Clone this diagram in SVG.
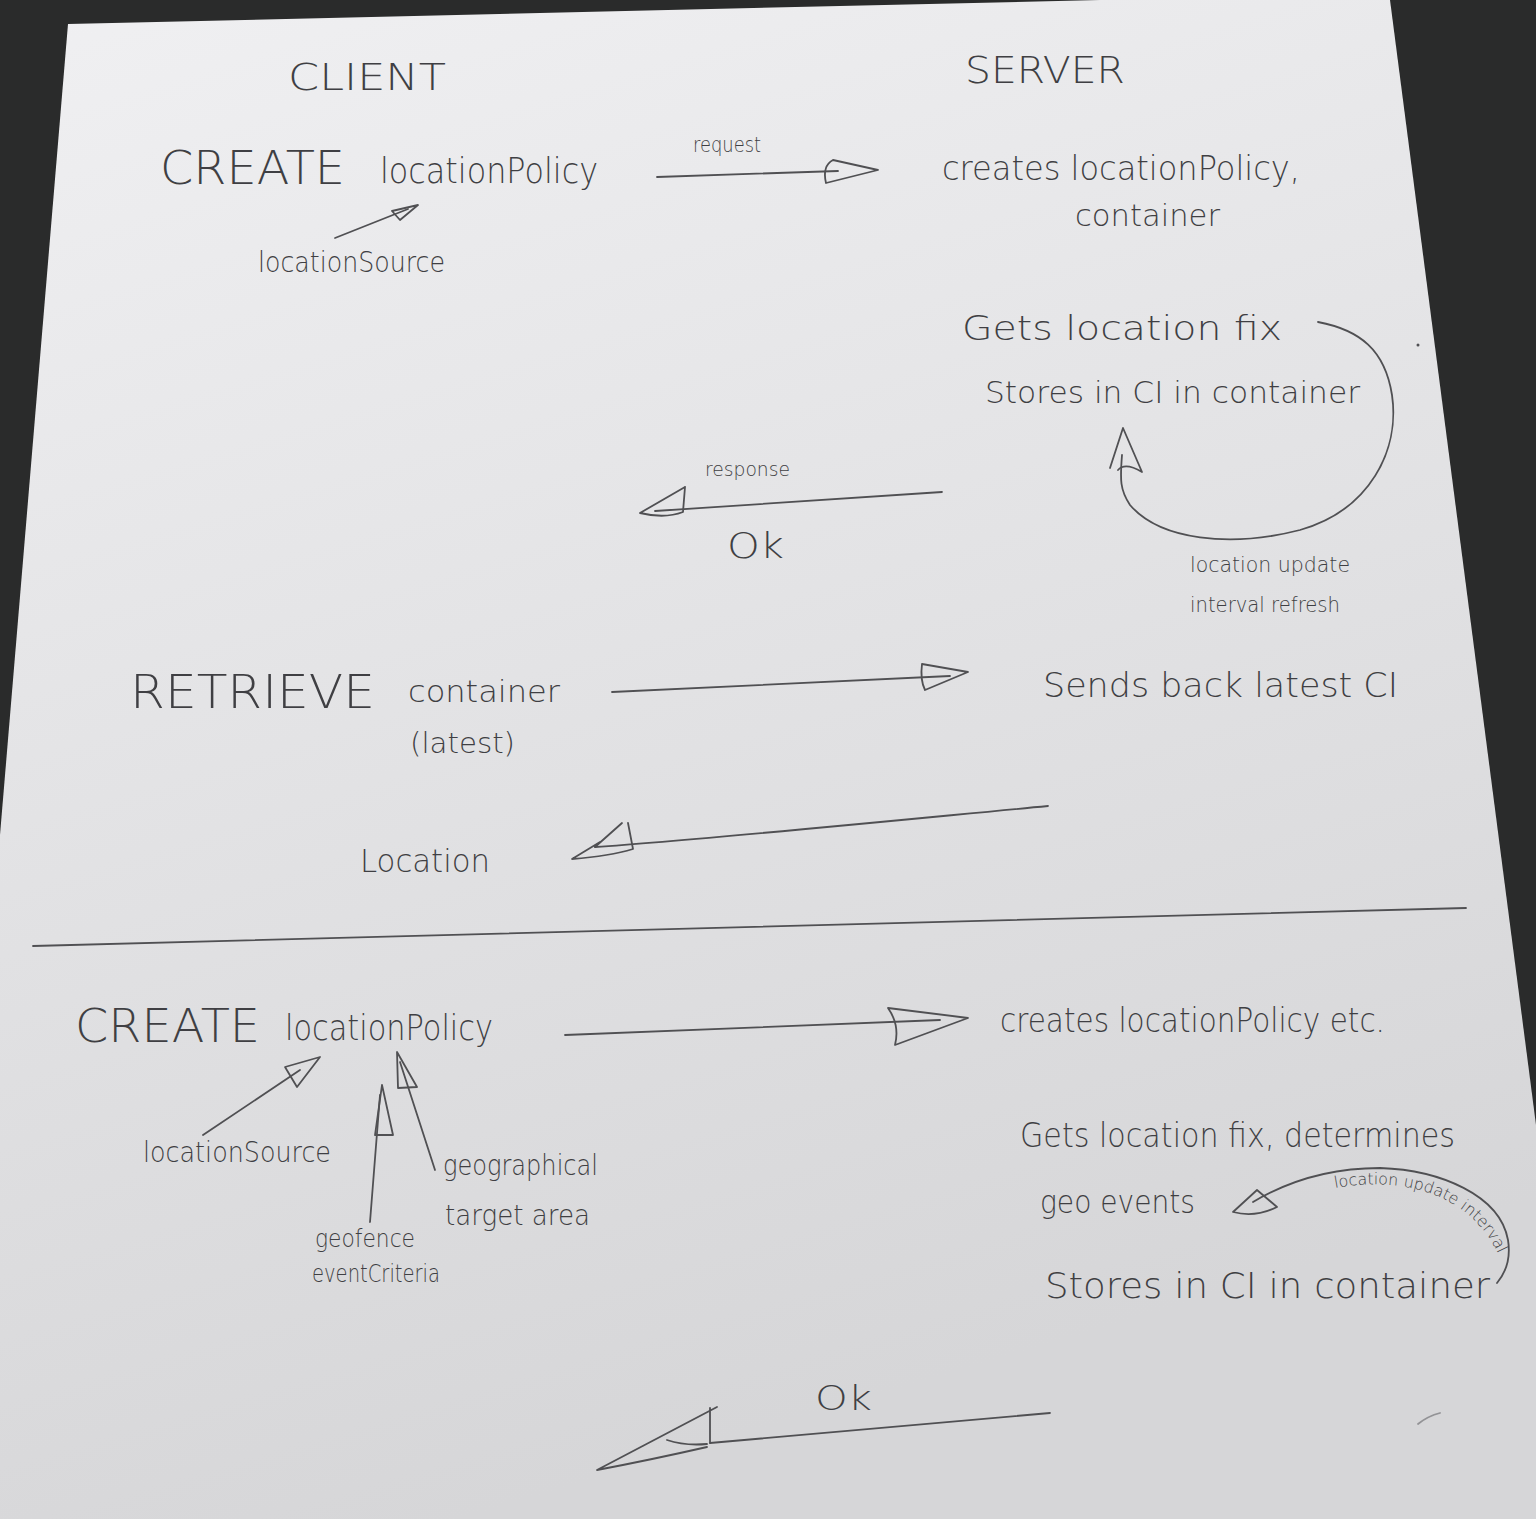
<svg xmlns="http://www.w3.org/2000/svg" width="1536" height="1519" viewBox="0 0 1536 1519">
<defs>
<linearGradient id="paper" x1="0" y1="0" x2="0.3" y2="1">
<stop offset="0" stop-color="#f0f0f2"/>
<stop offset="0.5" stop-color="#e3e3e5"/>
<stop offset="1" stop-color="#d6d6d8"/>
</linearGradient>
<style>
.t{font-family:"DejaVu Sans","Liberation Sans",sans-serif;font-weight:200;fill:#3f3f43;}
.s{fill:none;stroke:#505053;stroke-width:1.8;stroke-linecap:round;stroke-linejoin:round;}
</style>
</defs>
<rect x="0" y="0" width="1536" height="1519" fill="#2a2b2b"/>
<polygon points="68,24 1100,0 1390,0 1536,1125 1536,1519 0,1519 0,835" fill="url(#paper)"/>

<g id="connectors">
<path class="s" d="M657,177 L838,171"/>
<path class="s" d="M833,160 Q822,166 826,183 L878,170 Z"/>
<path class="s" d="M335,238 L408,209"/>
<path class="s" d="M418,205 L392,211 L400,220 Z"/>
<path class="s" d="M1318,322 C1360,330 1385,350 1392,395 C1400,450 1370,510 1300,530 C1230,548 1160,540 1130,505 C1120,490 1120,480 1122,455"/>
<path class="s" d="M1123,428 L1110,468 M1123,428 L1142,472 Q1125,462 1118,470"/>
<path class="s" d="M942,492 L655,511"/>
<path class="s" d="M685,487 L640,513 Q665,519 683,512 L685,487"/>
<path class="s" d="M612,692 L950,676"/>
<path class="s" d="M922,664 Q920,680 925,690 L968,672 Z"/>
<path class="s" d="M1048,806 C900,820 700,840 595,847"/>
<path class="s" d="M595,847 L622,823 M628,823 L633,849 Q610,856 572,859 L600,842"/>
<path class="s" d="M33,946 L1466,908"/>
<path class="s" d="M565,1035 L940,1020"/>
<path class="s" d="M888,1008 Q900,1025 895,1045 L968,1018 Z"/>
<path class="s" d="M203,1135 L300,1070"/>
<path class="s" d="M320,1057 L285,1067 L297,1087 Z"/>
<path class="s" d="M370,1222 L380,1095"/>
<path class="s" d="M382,1085 L375,1135 L393,1135 Z"/>
<path class="s" d="M435,1170 L400,1062"/>
<path class="s" d="M397,1052 L398,1088 L417,1087 Z"/>
<path class="s" d="M1497,1283 Q1512,1265 1508,1240 C1500,1195 1440,1170 1380,1168 C1330,1168 1290,1180 1253,1202"/>
<path class="s" d="M1233,1212 L1257,1190 L1277,1207 Q1255,1218 1233,1212 Z"/>
<path class="s" d="M1050,1413 L710,1443"/>
<path class="s" d="M710,1443 L710,1408 M717,1407 L597,1470 Q650,1460 707,1447 M667,1440 Q685,1446 707,1444"/>
<path class="s" d="M1418,1424 Q1428,1416 1440,1413" stroke-width="1" opacity="0.5"/>
<circle cx="1418" cy="345" r="1.5" fill="#505053"/>
</g>

<g id="header-client"><text class="t" x="288" y="90" font-size="38" textLength="158" lengthAdjust="spacingAndGlyphs">CLIENT</text></g>
<g id="header-server"><text class="t" x="965" y="83" font-size="38" textLength="160" lengthAdjust="spacingAndGlyphs">SERVER</text></g>

<g id="create1">
<text class="t" x="160" y="184" font-size="46" textLength="185" lengthAdjust="spacingAndGlyphs">CREATE</text>
<text class="t" x="380" y="183" font-size="36" textLength="218" lengthAdjust="spacingAndGlyphs">locationPolicy</text>
</g>
<g id="label-request"><text class="t" x="693" y="152" font-size="22" textLength="68" lengthAdjust="spacingAndGlyphs">request</text></g>
<g id="server-creates1">
<text class="t" x="942" y="180" font-size="34" textLength="358" lengthAdjust="spacingAndGlyphs">creates locationPolicy,</text>
<text class="t" x="1075" y="226" font-size="30" textLength="145" lengthAdjust="spacingAndGlyphs">container</text>
</g>
<g id="locationSource1"><text class="t" x="258" y="272" font-size="28" textLength="187" lengthAdjust="spacingAndGlyphs">locationSource</text></g>
<g id="server-gets1">
<text class="t" x="962" y="340" font-size="34" textLength="320" lengthAdjust="spacingAndGlyphs">Gets location fix</text>
<text class="t" x="985" y="403" font-size="30" textLength="375" lengthAdjust="spacingAndGlyphs">Stores in CI in container</text>
</g>
<g id="label-loop1">
<text class="t" x="1190" y="572" font-size="22" textLength="160" lengthAdjust="spacingAndGlyphs">location update</text>
<text class="t" x="1190" y="612" font-size="22" textLength="150" lengthAdjust="spacingAndGlyphs">interval refresh</text>
</g>
<g id="label-response"><text class="t" x="705" y="476" font-size="20" textLength="85" lengthAdjust="spacingAndGlyphs">response</text></g>
<g id="ok1"><text class="t" x="727" y="558" font-size="36" textLength="57" lengthAdjust="spacingAndGlyphs">Ok</text></g>

<g id="retrieve">
<text class="t" x="130" y="708" font-size="46" textLength="245" lengthAdjust="spacingAndGlyphs">RETRIEVE</text>
<text class="t" x="408" y="702" font-size="30" textLength="152" lengthAdjust="spacingAndGlyphs">container</text>
<text class="t" x="410" y="753" font-size="28" textLength="105" lengthAdjust="spacingAndGlyphs">(latest)</text>
</g>
<g id="server-sends"><text class="t" x="1043" y="697" font-size="34" textLength="355" lengthAdjust="spacingAndGlyphs">Sends back latest CI</text></g>
<g id="location"><text class="t" x="360" y="872" font-size="32" textLength="130" lengthAdjust="spacingAndGlyphs">Location</text></g>

<g id="create2">
<text class="t" x="75" y="1042" font-size="46" textLength="185" lengthAdjust="spacingAndGlyphs">CREATE</text>
<text class="t" x="285" y="1040" font-size="36" textLength="208" lengthAdjust="spacingAndGlyphs">locationPolicy</text>
</g>
<g id="server-creates2"><text class="t" x="1000" y="1032" font-size="34" textLength="385" lengthAdjust="spacingAndGlyphs">creates locationPolicy etc.</text></g>
<g id="locationSource2"><text class="t" x="143" y="1162" font-size="28" textLength="188" lengthAdjust="spacingAndGlyphs">locationSource</text></g>
<g id="geoTargetArea">
<text class="t" x="443" y="1175" font-size="28" textLength="155" lengthAdjust="spacingAndGlyphs">geographical</text>
<text class="t" x="445" y="1225" font-size="28" textLength="145" lengthAdjust="spacingAndGlyphs">target area</text>
</g>
<g id="geofenceEventCriteria">
<text class="t" x="315" y="1247" font-size="24" textLength="100" lengthAdjust="spacingAndGlyphs">geofence</text>
<text class="t" x="312" y="1282" font-size="24" textLength="128" lengthAdjust="spacingAndGlyphs">eventCriteria</text>
</g>
<g id="server-gets2">
<text class="t" x="1020" y="1147" font-size="34" textLength="435" lengthAdjust="spacingAndGlyphs">Gets location fix, determines</text>
<text class="t" x="1040" y="1213" font-size="32" textLength="155" lengthAdjust="spacingAndGlyphs">geo events</text>
<text class="t" x="1045" y="1298" font-size="36" textLength="445" lengthAdjust="spacingAndGlyphs">Stores in CI in container</text>
</g>
<g id="label-loop2">
<path id="loop2text" d="M1335,1188 C1400,1176 1472,1192 1500,1258" fill="none"/>
<text class="t" font-size="16"><textPath href="#loop2text" textLength="190" lengthAdjust="spacingAndGlyphs">location update interval</textPath></text>
</g>
<g id="ok2"><text class="t" x="815" y="1410" font-size="34" textLength="57" lengthAdjust="spacingAndGlyphs">Ok</text></g>
</svg>
